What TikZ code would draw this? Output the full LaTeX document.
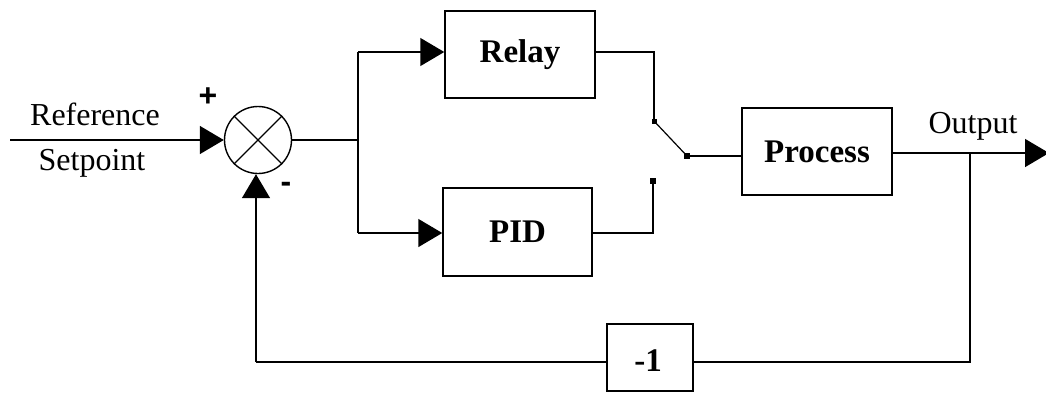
\documentclass[tikz,border=0pt]{standalone}
\usepackage{fontspec}
\setmainfont{Liberation Serif}
\newfontfamily\sansbold{Liberation Sans}
\usetikzlibrary{arrows.meta}
\begin{document}
\begin{tikzpicture}[x=1pt,y=-1pt,
  wire/.style={line width=1.5pt},
  arr/.style={wire,-{Triangle[length=24pt,width=28pt]}},
  blk/.style={draw,line width=1.5pt,inner sep=0pt,font=\fontsize{33}{38}\selectfont\bfseries},
  lbl/.style={font=\fontsize{32}{36}\selectfont,inner sep=0pt},
  sgn/.style={font=\sansbold\bfseries\fontsize{32}{36}\selectfont,inner sep=0pt},
  pin/.style={fill,inner sep=0pt,minimum size=6pt,rectangle}]
\useasboundingbox (0,0) rectangle (1046,392);
% nodes
\node[draw,circle,line width=1.4pt,minimum size=67pt,inner sep=0pt] (sum) at (258,140) {};
\draw[line width=1.1pt] (sum.45) -- (sum.225) (sum.135) -- (sum.315);
\node[blk,minimum width=150pt,minimum height=87pt] (relay) at (520,54.5) {Relay};
\node[blk,minimum width=149pt,minimum height=88pt] (pid) at (517.5,232) {PID};
\node[blk,minimum width=150pt,minimum height=87pt] (proc) at (817,151.5) {Process};
\node[blk,minimum width=86pt,minimum height=67pt] (neg) at (650,357.5) {};
\node[font=\fontsize{33}{38}\selectfont\bfseries,inner sep=0pt] (negt) at (648,361) {-1};
\coordinate (in) at (10,140);
\coordinate (split) at (358,140);
\coordinate (splitA) at (358,52);
\coordinate (splitB) at (358,233);
\coordinate (rc) at (654,52);
\node[pin,minimum size=5pt] (sa) at (654,121) {};
\node[pin,minimum size=6pt] (sw) at (687,156) {};
\node[pin,minimum size=6pt] (sb) at (653,181) {};
\coordinate (pc) at (653,233);
\coordinate (br) at (970,153);
\coordinate (outend) at (1049,153);
\coordinate (fbR) at (970,362);
\coordinate (fbL) at (256,362);
% labels
\node[lbl] (ref) at (95,114) {Reference};
\node[lbl] (setp) at (92,163) {Setpoint};
\node[lbl] (outl) at (973,126) {Output};
\node[sgn] (plus) at (208,97) {+};
\node[sgn] (minus) at (286,187) {-};
% connectors
\draw[arr] (in) -- (sum.west);
\draw[wire] (sum.east) -- (split);
\draw[wire] (splitA) -- (splitB);
\draw[arr] (splitA) -- (relay.west |- splitA);
\draw[arr] (splitB) -- (pid.west |- splitB);
\draw[wire] (relay.east |- rc) -- (rc) -- (sa.center);
\draw[line width=1.2pt] (sa.center) -- (sw.center);
\draw[wire] (sw.center) -- (proc.west |- sw);
\draw[wire] (pid.east |- pc) -- (pc) -- (sb.center);
\draw[arr] (proc.east |- br) -- (outend);
\draw[wire] (br) -- (fbR) -- (neg.east |- fbR);
\draw[wire] (neg.west |- fbL) -- (fbL);
\draw[arr] (fbL) -- (sum.south -| fbL);
\end{tikzpicture}
\end{document}
